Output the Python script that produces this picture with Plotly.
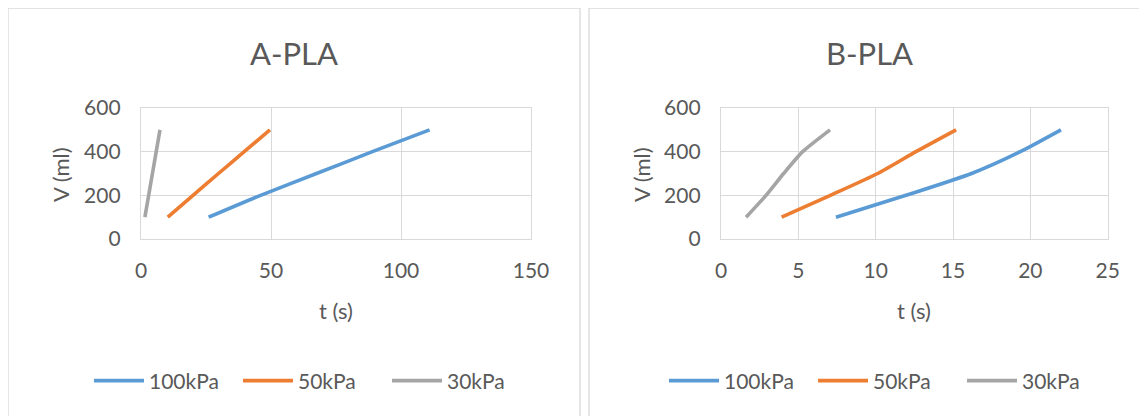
import plotly.graph_objects as go

W, H = 1147, 416
OFF = 8  # browser body margin offset

# ---- data ----
series_names = ["100kPa", "50kPa", "30kPa"]
series_colors = ["#5B9BD5", "#ED7D31", "#A5A5A5"]
volume_ml = [100, 200, 300, 400, 500]

a_t_100 = [26.0, 46.0, 67.5, 89.0, 111.0]
a_t_50 = [10.3, 20.0, 29.8, 39.7, 49.6]
a_t_30 = [1.5, 2.95, 4.4, 5.85, 7.3]

b_t_100 = [7.43, 11.96, 16.2, 19.35, 21.98]
b_t_50 = [3.92, 7.07, 10.13, 12.6, 15.2]
b_t_30 = [1.62, 2.91, 4.05, 5.28, 7.05]

a_xticks = [0, 50, 100, 150]
b_xticks = [0, 5, 10, 15, 20, 25]
yticks = [0, 200, 400, 600]

chart_titles = ["A-PLA", "B-PLA"]
x_title = "t (s)"
y_title = "V (ml)"

FONT = "Lato, Carlito, Calibri, sans-serif"
TXT = "#595959"
GRID = "#D9D9D9"

def px_x(p):
    return (p - OFF) / W

def px_y(p):
    return 1 - (p - OFF) / H

fig = go.Figure()

LW = 3.6
SM = 0.6
for t, name, col in zip([a_t_100, a_t_50, a_t_30], series_names, series_colors):
    fig.add_trace(go.Scatter(x=t, y=volume_ml, mode="lines", name=name,
                             line=dict(color=col, width=LW, shape="spline", smoothing=SM),
                             xaxis="x", yaxis="y", legend="legend"))
for t, name, col in zip([b_t_100, b_t_50, b_t_30], series_names, series_colors):
    fig.add_trace(go.Scatter(x=t, y=volume_ml, mode="lines", name=name,
                             line=dict(color=col, width=LW, shape="spline", smoothing=SM),
                             xaxis="x2", yaxis="y2", legend="legend2"))

ydom = [px_y(239), px_y(108)]
axis_common = dict(showgrid=True, gridcolor=GRID, gridwidth=1.3, zeroline=False,
                   showline=True, linecolor=GRID, linewidth=1.3, mirror=True,
                   ticks="", tickfont=dict(family=FONT, size=21, color=TXT),
                   fixedrange=True, automargin=False)

legend_common = dict(orientation="h", yanchor="middle", y=px_y(381),
                     font=dict(family=FONT, size=21, color=TXT), itemwidth=50,
                     entrywidth=84, entrywidthmode="pixels",
                     bgcolor="rgba(0,0,0,0)")

fig.update_layout(
    template="none",
    width=W, height=H,
    margin=dict(l=0, r=0, t=0, b=0, pad=0, autoexpand=False),
    paper_bgcolor="white", plot_bgcolor="white",
    showlegend=True,
    xaxis=dict(domain=[px_x(141), px_x(531)], range=[0, 150], tickvals=a_xticks,
               anchor="y", ticklabelstandoff=13, **axis_common),
    yaxis=dict(domain=ydom, range=[0, 600], tickvals=yticks, anchor="x",
               ticklabelstandoff=15, **axis_common),
    xaxis2=dict(domain=[px_x(721), px_x(1107.7)], range=[0, 25], tickvals=b_xticks,
                anchor="y2", ticklabelstandoff=13, **axis_common),
    yaxis2=dict(domain=ydom, range=[0, 600], tickvals=yticks, anchor="x2",
                ticklabelstandoff=15, **axis_common),
    legend=dict(x=px_x(89), xanchor="left", **legend_common),
    legend2=dict(x=px_x(664), xanchor="left", **legend_common),
)

# chart borders
fig.add_shape(type="rect", xref="paper", yref="paper",
              x0=px_x(8), x1=px_x(580), y0=px_y(440), y1=px_y(8),
              line=dict(color=GRID, width=1.3))
fig.add_shape(type="rect", xref="paper", yref="paper",
              x0=px_x(589), x1=px_x(1170), y0=px_y(440), y1=px_y(8),
              line=dict(color=GRID, width=1.3))

# titles
for txt, cx in zip(chart_titles, [294, 869]):
    fig.add_annotation(text=txt, x=px_x(cx), y=px_y(53), xref="paper", yref="paper",
                       showarrow=False, xanchor="center", yanchor="middle",
                       font=dict(family=FONT, size=31, color=TXT))
for cx in [336, 914]:
    fig.add_annotation(text=x_title, x=px_x(cx), y=px_y(310), xref="paper", yref="paper",
                       showarrow=False, xanchor="center", yanchor="middle",
                       font=dict(family=FONT, size=22, color=TXT))
for cx in [60, 641]:
    fig.add_annotation(text=y_title, x=px_x(cx), y=px_y(175), xref="paper", yref="paper",
                       showarrow=False, xanchor="center", yanchor="middle", textangle=-90,
                       font=dict(family=FONT, size=22, color=TXT))

fig.write_html("out.html")
